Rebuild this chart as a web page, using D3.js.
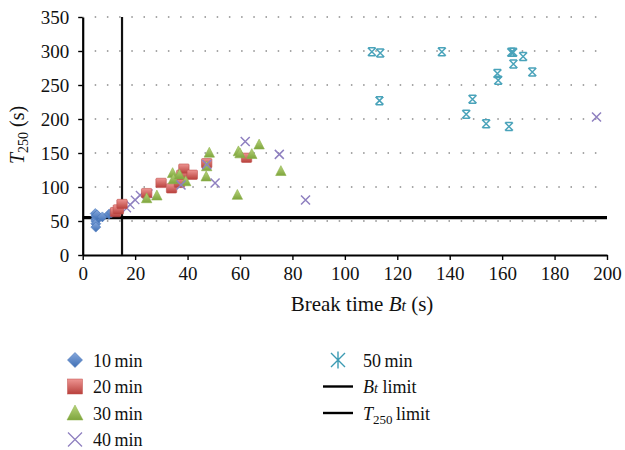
<!DOCTYPE html>
<html><head><meta charset="utf-8">
<script src="https://cdn.jsdelivr.net/npm/d3@7"></script>
<style>
body{margin:0;background:#fff;}
text{font-family:"Liberation Serif","DejaVu Serif",serif;fill:#111;}
</style></head>
<body><svg id="c" width="625" height="450"></svg>
<script>
// ---- data ----
const xTicks = [0,20,40,60,80,100,120,140,160,180,200];
const yTicks = [0,50,100,150,200,250,300,350];
const seriesNames = ["10\u2009min","20\u2009min","30\u2009min","40\u2009min","50\u2009min"];
const s10 = [[4.8,61],[5,57],[5,53],[5,50],[5,46],[5,41],[6,55],[5.5,59],[7.5,56],[10,60],[11,62]];
const s20 = [[12.5,63],[13.6,67],[15,75],[24.4,91],[29.9,106],[33.9,98],[36.9,106],[37.8,118],[38.6,127],[41.8,118],[47.3,135],[62.5,143]];
const s30 = [[24.4,83],[28.3,87],[34.3,120],[34.6,111],[36.9,118],[39.3,108],[47.1,115],[47.3,130],[48.3,150],[59,88],[59.4,152],[60,149],[64.5,148],[67.3,162],[75.6,123]];
const s40 = [[16.8,69],[18.1,74],[20,81],[21.9,88],[25,90],[37.5,103],[47.3,133],[50.5,106],[62,167],[75,148],[85,81],[196,203]];
const s50 = [[110.3,299],[113.5,297],[113.2,227],[137,299],[146.3,207],[148.7,229],[153.9,193],[158.2,267],[158.5,257],[162.6,189],[163.5,298],[164.2,298],[164.3,281],[168,292],[171.5,269]];
const btLimit = 15;
const t250Limit = 55;

const svg = d3.select("#c");
const x = d3.scaleLinear().domain([0,200]).range([82.7,607]);
const y = d3.scaleLinear().domain([0,350]).range([255,17]);

// defs gradients
const defs = svg.append("defs");
function grad(id, c1, c2){
  const g = defs.append("linearGradient").attr("id",id).attr("x1",0).attr("y1",0).attr("x2",0).attr("y2",1);
  g.append("stop").attr("offset","0%").attr("stop-color",c1);
  g.append("stop").attr("offset","100%").attr("stop-color",c2);
}
grad("gb","#86a8dc","#3f6fb5");
grad("gr","#ee9592","#b8403c");
grad("gg","#b9d57c","#7ea53d");
const blur = defs.append("filter").attr("id","soft").attr("x","-50%").attr("y","-50%").attr("width","200%").attr("height","200%");
blur.append("feGaussianBlur").attr("stdDeviation",0.45);

// grid (dotted)
svg.append("g").selectAll("line").data(yTicks.filter(d=>d>0)).join("line")
  .attr("x1",x(0)+1).attr("x2",x(200)).attr("y1",d=>y(d)).attr("y2",d=>y(d))
  .attr("stroke","#8a8a8a").attr("stroke-width",1.5)
  .attr("stroke-dasharray","1.5,10.7").attr("stroke-dashoffset",-11);

// axes
const xAxis = d3.axisBottom(x).tickValues(xTicks).tickSize(5).tickSizeOuter(0).tickPadding(7);
const gx = svg.append("g").attr("transform",`translate(0,${y(0)})`).call(xAxis);
gx.select(".domain").attr("stroke","#000").attr("stroke-width",2.2);
gx.selectAll(".tick line").attr("stroke","#000").attr("stroke-width",1.4);
gx.selectAll("text").attr("font-size",19).attr("font-family","Liberation Serif").attr("fill","#111");

const yAxis = d3.axisLeft(y).tickValues(yTicks).tickSize(4.5).tickSizeOuter(0).tickPadding(9);
const gy = svg.append("g").attr("transform",`translate(${x(0)},0)`).call(yAxis);
gy.select(".domain").attr("stroke","#000").attr("stroke-width",2.2);
gy.selectAll(".tick line").attr("stroke","#000").attr("stroke-width",1.4);
gy.selectAll("text").attr("font-size",19).attr("font-family","Liberation Serif").attr("fill","#111");

// limit lines
svg.append("line").attr("x1",x(btLimit)).attr("x2",x(btLimit)).attr("y1",y(350)).attr("y2",y(0))
  .attr("stroke","#111").attr("stroke-width",2.2);
svg.append("line").attr("x1",x(0)).attr("x2",x(200)).attr("y1",y(t250Limit)).attr("y2",y(t250Limit))
  .attr("stroke","#000").attr("stroke-width",3.2);

// marker drawers
function diamond(g,s){ g.append("path").attr("d",`M0,${-s}L${s},0L0,${s}L${-s},0Z`).attr("fill","url(#gb)").attr("stroke","#4a77bb").attr("stroke-width",0.6); }
function square(g,s){ g.append("rect").attr("x",-s).attr("y",-s*0.9).attr("width",2*s).attr("height",1.8*s).attr("rx",1).attr("fill","url(#gr)").attr("stroke","#c0504d").attr("stroke-width",0.6); }
function tri(g,s){ g.append("path").attr("d",`M0,${-s*1.1}L${s},${s*0.8}L${-s},${s*0.8}Z`).attr("fill","url(#gg)").attr("stroke","#8cb04a").attr("stroke-width",0.6); }
function cross(g,s,w){ g.append("path").attr("d",`M${-s},${-s}L${s},${s}M${-s},${s}L${s},${-s}`).attr("stroke","#8f80c0").attr("stroke-width",w).attr("fill","none"); }
function star(g,s,w){ g.append("path").attr("d",`M${-s},${-s}L${s},${s}M${-s},${s}L${s},${-s}M0,${-s*1.2}L0,${s*1.2}`).attr("stroke","#3c9bb3").attr("stroke-width",w).attr("fill","none"); }
function starPt(g,s){ g.append("path").attr("d",`M${-s},${-s}L${s},${s}M${-s},${s}L${s},${-s}M${-s*0.9},${-s}L${s*0.9},${-s}M${-s*0.9},${s}L${s*0.9},${s}`).attr("stroke","#4aa3ba").attr("stroke-width",1.5).attr("fill","none"); }

const pts = svg.append("g").attr("filter","url(#soft)");
function plot(data, fn){
  pts.append("g").selectAll("g").data(data).join("g")
    .attr("transform",d=>`translate(${x(d[0])},${y(d[1])})`)
    .each(function(){ fn(d3.select(this)); });
}
plot(s10, g=>diamond(g,5));
plot(s40.filter(d=>d[0]<30), g=>cross(g,4.2,1.4));
plot(s20, g=>square(g,5.2));
plot(s30, g=>tri(g,5.2));
plot(s40.filter(d=>d[0]>=30), g=>cross(g,4.5,1.5));
plot(s50, g=>starPt(g,4));

// axis titles
const yt = svg.append("text").attr("transform","translate(24,135) rotate(-90)").attr("text-anchor","middle").attr("font-size",20);
yt.append("tspan").attr("font-style","italic").text("T");
yt.append("tspan").attr("font-size",14).attr("dy",4).text("250");
yt.append("tspan").attr("dy",-4).text(" (s)");

const xt = svg.append("text").attr("x",362).attr("y",311).attr("text-anchor","middle").attr("font-size",21);
xt.append("tspan").text("Break time ");
xt.append("tspan").attr("font-style","italic").text("B");
xt.append("tspan").attr("font-style","italic").attr("font-size",16).text("t");
xt.append("tspan").text(" (s)");

// legend
const leg = svg.append("g");
const lx1 = 75, lx2 = 338, tx1 = 93, tx2 = 363;
const rows = [360, 386.5, 413, 439.5];
const l1 = leg.append("g").attr("transform",`translate(${lx1},${rows[0]})`); diamond(l1,7.5);
const l2 = leg.append("g").attr("transform",`translate(${lx1},${rows[1]})`); l2.append("rect").attr("x",-7.5).attr("y",-7.5).attr("width",15).attr("height",15).attr("fill","url(#gr)").attr("stroke","#c0504d").attr("stroke-width",0.5);
const l3 = leg.append("g").attr("transform",`translate(${lx1},${rows[2]})`); l3.append("path").attr("d","M0,-8L8,7L-8,7Z").attr("fill","url(#gg)").attr("stroke","#8cb04a").attr("stroke-width",0.5);
const l4 = leg.append("g").attr("transform",`translate(${lx1},${rows[3]})`); cross(l4,7,1.3);
const l5 = leg.append("g").attr("transform",`translate(${lx2},${rows[0]})`); star(l5,7,1.4);
leg.append("line").attr("x1",323).attr("x2",353).attr("y1",rows[1]).attr("y2",rows[1]).attr("stroke","#000").attr("stroke-width",2.4);
leg.append("line").attr("x1",323).attr("x2",353).attr("y1",rows[2]).attr("y2",rows[2]).attr("stroke","#000").attr("stroke-width",2.4);

for(let i=0;i<4;i++){
  leg.append("text").attr("x",tx1).attr("y",rows[i]+6.5).attr("font-size",18).text(seriesNames[i]);
}
leg.append("text").attr("x",tx2).attr("y",rows[0]+6.5).attr("font-size",18).text(seriesNames[4]);
const b1 = leg.append("text").attr("x",tx2).attr("y",rows[1]+6.5).attr("font-size",18);
b1.append("tspan").attr("font-style","italic").text("B");
b1.append("tspan").attr("font-style","italic").attr("font-size",14).text("t");
b1.append("tspan").text(" limit");
const b2 = leg.append("text").attr("x",tx2).attr("y",rows[2]+6.5).attr("font-size",18);
b2.append("tspan").attr("font-style","italic").text("T");
b2.append("tspan").attr("font-size",13).attr("dy",4).text("250");
b2.append("tspan").attr("dy",-4).text("\u2009limit");
</script></body></html>
